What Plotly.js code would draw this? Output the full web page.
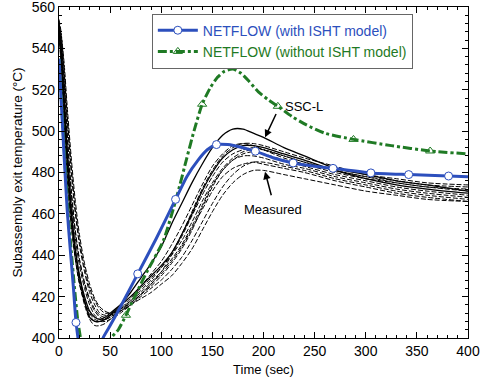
<!DOCTYPE html>
<html><head><meta charset="utf-8">
<script src="https://cdn.plot.ly/plotly-3.0.1.min.js"></script>
<style>html,body{margin:0;padding:0;background:#fff}#chart{width:480px;height:380px}</style>
</head><body><div id="chart"></div>
<script>
// NETFLOW with ISHT model (line)
const withX = [0,2,5,8,11,14,16.6,20,25,32,38,43,50,60,77,95,114,125,136,145,154,165,180,192,210,229,250,268,305,342,381,400];
const withY = [535,516,488,462,443,425,408,396,388,386,392,400,406,415,431,448,467,478,486,491,493.5,493.5,492,490.3,487,484.6,483,482,479.8,479,478.3,478];
// NETFLOW with ISHT model (circle markers)
const withMkX = [16.6,77,114,154,192,229,268,305,342,381];
const withMkY = [407.5,431,467,493.5,490.3,484.6,482,479.8,479,478.3];
// NETFLOW without ISHT model (line)
const woX = [0,2,5,9,12,15,18,21,25,33,40,46,51,58,65.5,75,87,102,115,125,132,140,148,155,162,170,178,186,195,205,214,228,242,260,288,325,363,400];
const woY = [535,518,492,460,442,425,410,400,390,385,388,394,400,404,411,421,433,447,468,487,500,513,521,526,529,530,528,524,519,515,512,507,503,499,496,493,490.4,489];
// NETFLOW without ISHT model (triangle markers)
const woMkX = [65.5,140,214,288,363];
const woMkY = [411,513,512,496,490.4];

// Measured thermocouple traces (shared time base)
const tMeas = [0,2,5,8,12,16,20,25,30,35,40,45,50,60,70,80,90,100,110,120,130,140,150,160,170,180,190,200,220,240,270,300,330,360,400];
const sscL = [552,540,515,490,462,443,430,418,410,408,408,409,411,416,422,429,436,444,455,465,475,484,492,498,501,501,499,497,492,488,482,479,476,474,471];
const solid2 = [548,538,512,485,460,442,430,420,413,410,409,410,412,416,420,425,430,435,441,450,460,471,480,487,491,493,493,492,489,486,481,477,474,472,470];
const meas1 = [550,536,508,482,458,440,427,416,409,406,406,407,409,413,418,423,428,434,441,450,461,472,481,488,492,494,494,493,490,487,483,479,477,475,474];
const meas2 = [553,545,525,500,472,452,438,426,418,413,410,409,410,413,417,421,425,430,436,443,452,463,473,481,486,489,490,489,486,483,479,476,473,471,469];
const meas3 = [549,540,518,492,466,448,435,424,416,411,409,409,410,414,419,424,429,434,440,447,456,466,475,482,487,490,491,491,488,485,481,478,475,473,471];
const meas4 = [551,544,528,506,480,460,445,432,422,416,412,411,411,413,416,420,424,428,433,439,447,456,465,473,479,483,485,485,483,481,477,474,471,469,467];
const meas5 = [552,547,533,512,487,466,450,436,426,419,415,413,412,413,416,419,422,426,430,436,443,452,461,469,475,479,481,481,479,477,474,471,469,467,466];
const meas6 = [547,534,505,478,455,438,426,417,411,408,408,409,411,415,420,425,431,437,445,454,464,474,483,489,493,494,493,491,487,484,480,477,475,473,472];
const meas7 = [550,542,522,496,470,451,438,427,419,414,411,410,411,414,418,422,427,432,438,445,454,464,474,481,486,488,488,487,484,482,478,475,472,470,468];
const meas8 = [554,548,530,508,483,462,447,434,424,418,414,412,412,414,417,421,426,431,437,444,453,462,471,478,482,484,485,484,482,480,476,473,470,468,466];
const meas9 = [546,532,502,476,454,438,427,418,412,409,408,408,409,412,416,421,426,432,440,449,459,469,478,485,489,491,492,491,488,485,481,478,476,474,473];

const solidSeries = [sscL, solid2];
const dashedSeries = [meas1, meas2, meas3, meas4, meas5, meas6, meas7, meas8, meas9];

const BLUE = '#2c4fbd', GREEN = '#1f7a24';
const traces = [];
dashedSeries.forEach(s => traces.push({x: tMeas, y: s, mode: 'lines', showlegend: false, hoverinfo: 'skip',
  line: {color: '#000', width: 1, dash: '5px,2px', shape: 'spline', smoothing: 0.8}}));
solidSeries.forEach(s => traces.push({x: tMeas, y: s, mode: 'lines', showlegend: false, hoverinfo: 'skip',
  line: {color: '#000', width: 1.3, shape: 'spline', smoothing: 0.8}}));
traces.push({x: woX, y: woY, mode: 'lines', showlegend: false,
  line: {color: GREEN, width: 3, dash: 'dashdot', shape: 'spline', smoothing: 0.6}});
traces.push({x: woMkX, y: woMkY, mode: 'markers', showlegend: false,
  marker: {symbol: 'triangle-up-open', size: 8, color: GREEN, line: {width: 1}}});
traces.push({x: withX, y: withY, mode: 'lines', showlegend: false,
  line: {color: BLUE, width: 3, shape: 'spline', smoothing: 0.6}});
traces.push({x: withMkX, y: withMkY, mode: 'markers', showlegend: false,
  marker: {symbol: 'circle', size: 8, color: '#fff', line: {color: BLUE, width: 1}}});
// legend entries
traces.push({x: [null], y: [null], mode: 'lines+markers',
  name: '<span style="color:' + BLUE + '">NETFLOW (with ISHT model)</span>',
  line: {color: BLUE, width: 3}, marker: {symbol: 'circle', size: 8, color: '#fff', line: {color: BLUE, width: 1}}});
traces.push({x: [null], y: [null], mode: 'lines+markers',
  name: '<span style="color:' + GREEN + '">NETFLOW (without ISHT model)</span>',
  line: {color: GREEN, width: 3, dash: 'dashdot'}, marker: {symbol: 'triangle-up-open', size: 8, color: GREEN, line: {width: 1}}});

const FONT = 'Liberation Sans, Arial, Helvetica, sans-serif';
const axisCommon = {
  showline: true, linecolor: '#000', linewidth: 1.2, mirror: 'allticks',
  ticks: 'inside', ticklen: 6, tickwidth: 1, tickcolor: '#000', ticklabeloverflow: 'allow',
  showgrid: false, zeroline: false, tickfont: {family: FONT, size: 14, color: '#000'}
};
const layout = {
  width: 480, height: 380,
  margin: {l: 59, r: 12, t: 7, b: 42},
  paper_bgcolor: '#fff', plot_bgcolor: '#fff',
  font: {family: FONT, color: '#000'},
  xaxis: Object.assign({}, axisCommon, {
    range: [0, 400], dtick: 50, tick0: 0,
    minor: {dtick: 10, ticks: 'inside', ticklen: 3, tickcolor: '#000'},
    title: {text: 'Time (sec)', font: {family: FONT, size: 13}, standoff: 6}
  }),
  yaxis: Object.assign({}, axisCommon, {
    range: [400, 560], dtick: 20, tick0: 400,
    minor: {dtick: 4, ticks: 'inside', ticklen: 3, tickcolor: '#000'},
    title: {text: 'Subassembly exit temperature (°C)', font: {family: FONT, size: 13.5}, standoff: 6}
  }),
  legend: {x: 0.227, y: 0.98, xanchor: 'left', yanchor: 'top',
    bgcolor: '#fff', bordercolor: '#666', borderwidth: 1,
    font: {family: FONT, size: 14}, tracegroupgap: 0, itemwidth: 40},
  annotations: [
    {x: 219, y: 512, xref: 'x', yref: 'y', text: 'SSC-L', showarrow: false, xanchor: 'left',
     font: {family: FONT, size: 13, color: '#000'}},
    {x: 201.5, y: 497, xref: 'x', yref: 'y', ax: 213, ay: 509, axref: 'x', ayref: 'y',
     text: '', showarrow: true, arrowhead: 2, arrowsize: 1, arrowwidth: 1.5, arrowcolor: '#000'},
    {x: 209, y: 462, xref: 'x', yref: 'y', text: 'Measured', showarrow: false,
     font: {family: FONT, size: 13, color: '#000'}},
    {x: 201.5, y: 480.4, xref: 'x', yref: 'y', ax: 208, ay: 468.3, axref: 'x', ayref: 'y',
     text: '', showarrow: true, arrowhead: 2, arrowsize: 1, arrowwidth: 1.5, arrowcolor: '#000'}
  ]
};
Plotly.newPlot('chart', traces, layout, {staticPlot: true});
</script>
</body></html>
